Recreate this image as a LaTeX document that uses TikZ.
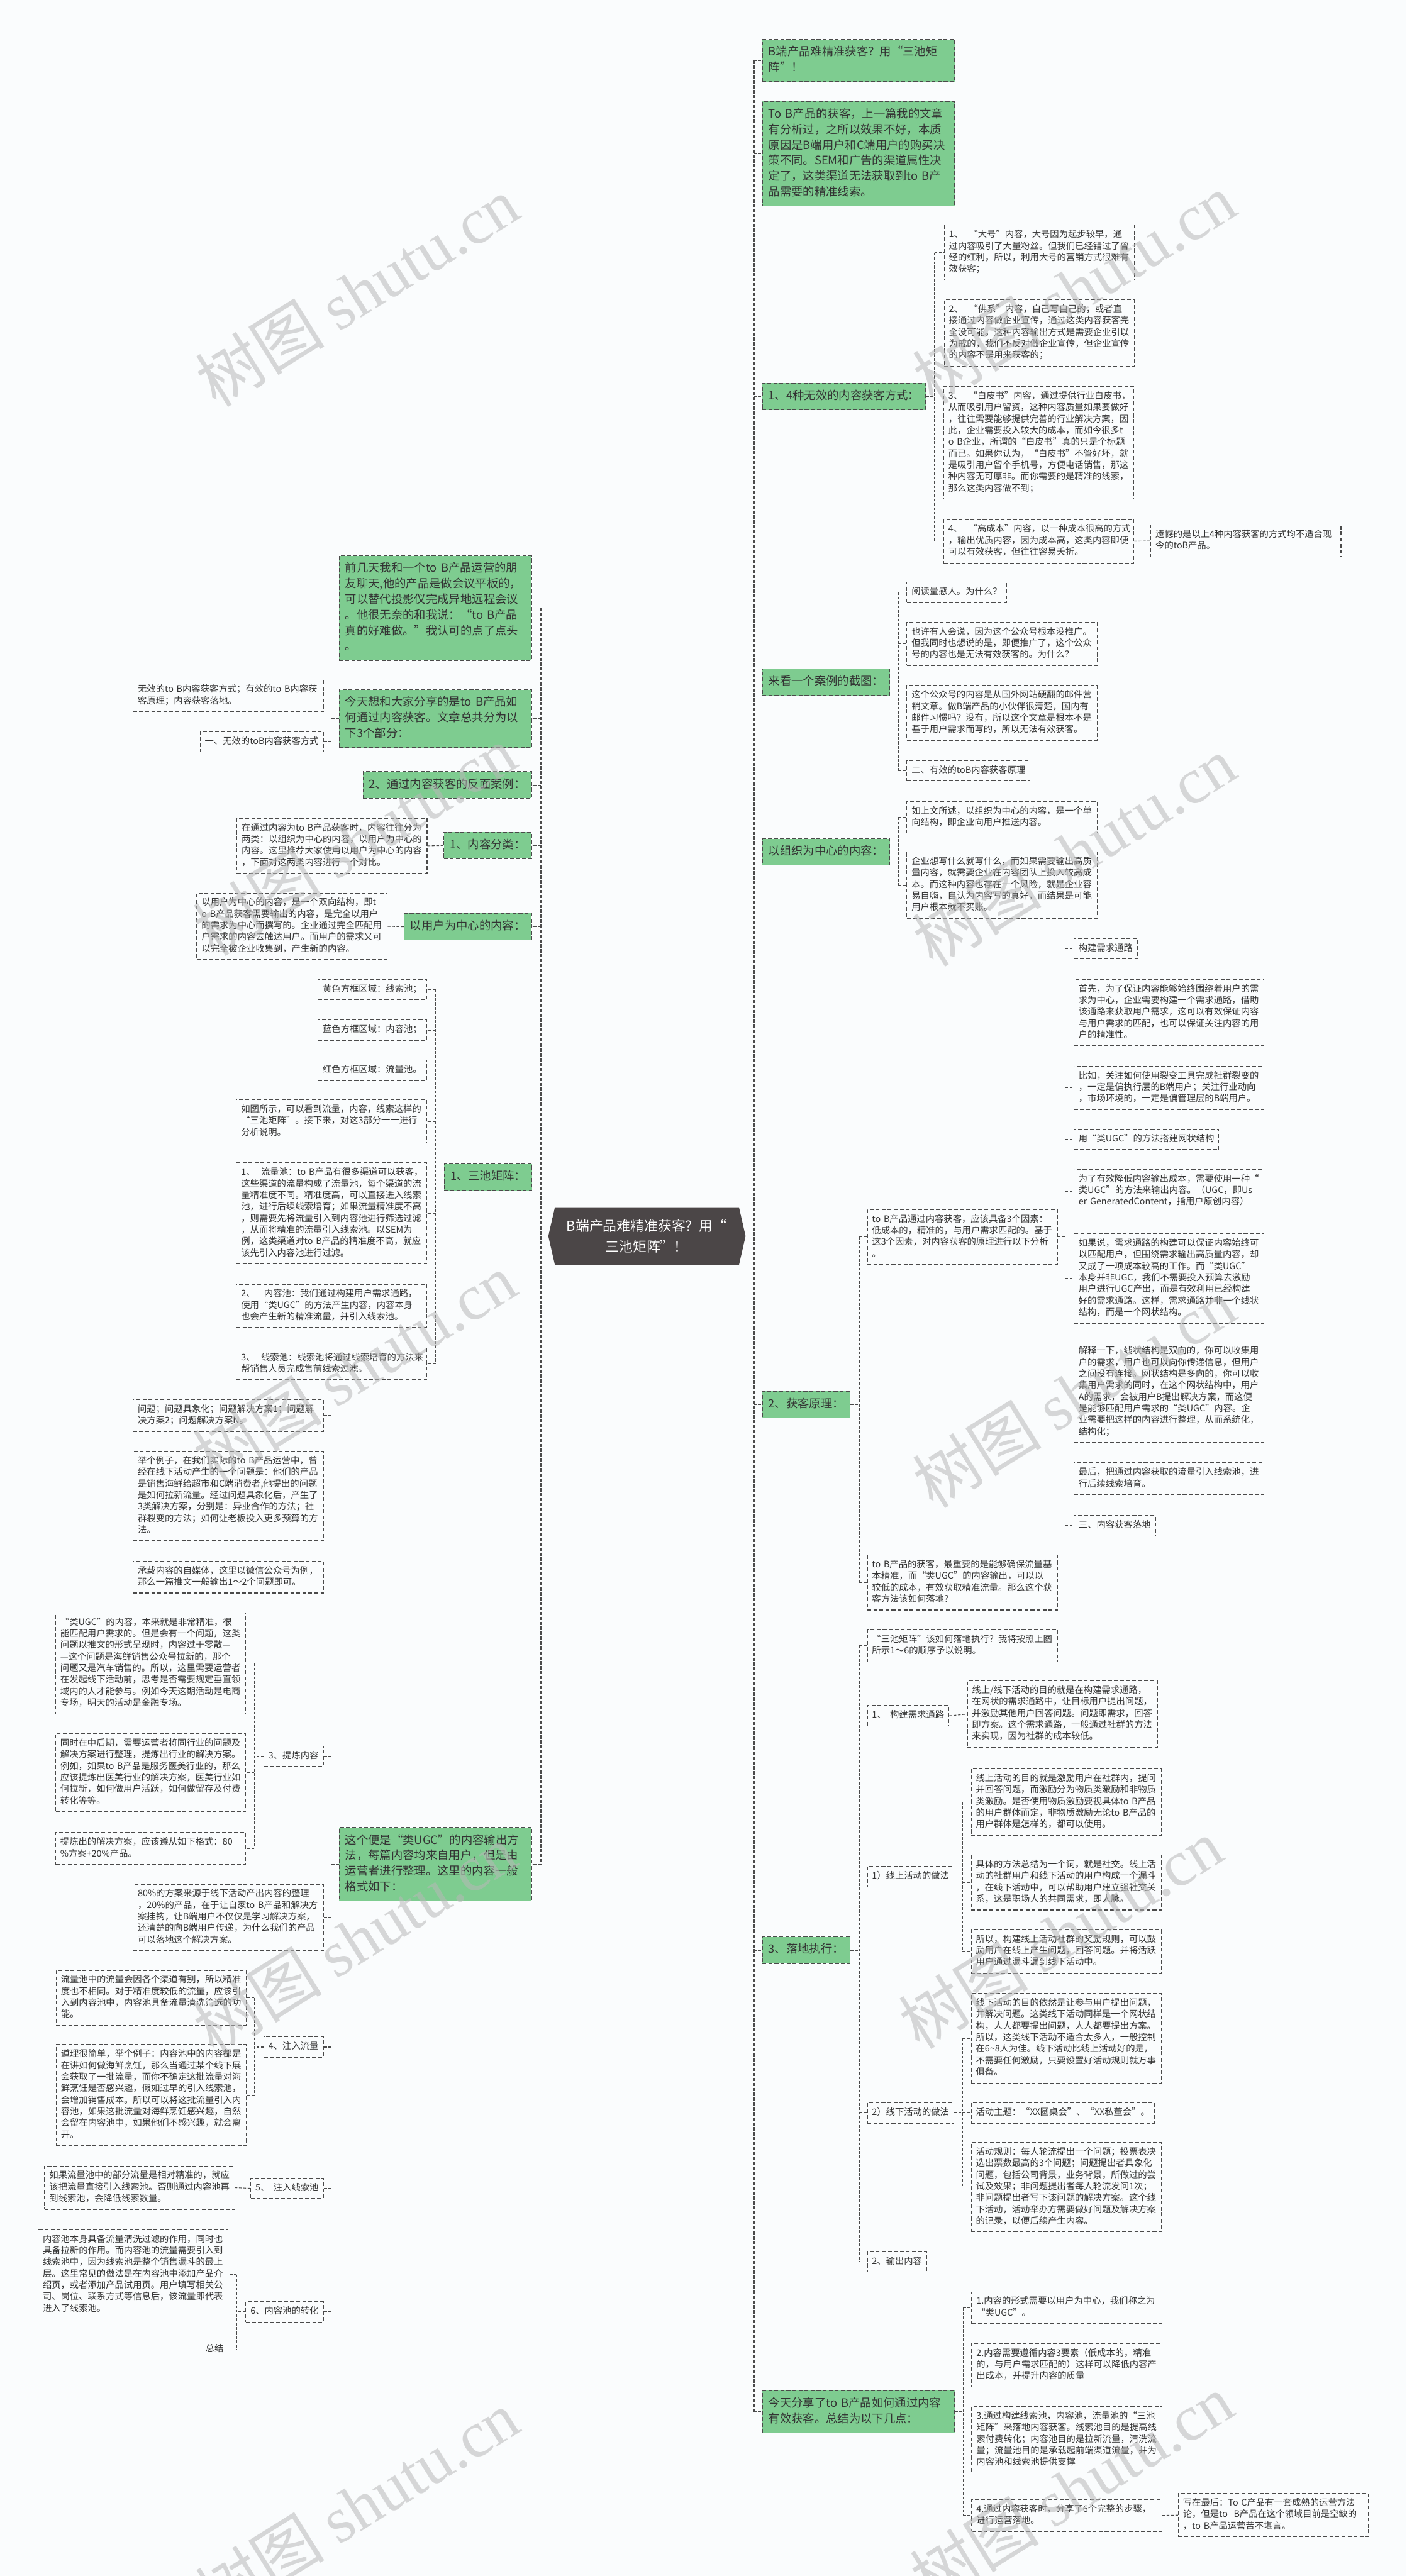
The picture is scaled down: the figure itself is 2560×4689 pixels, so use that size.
\documentclass[tikz,border=0pt]{standalone}
\usepackage{fontspec}
\setmainfont{Noto Sans CJK SC}
\newfontfamily\wmlatin{Liberation Serif}
\usepackage{xcolor}
\usetikzlibrary{positioning}

\definecolor{paper}{HTML}{FAFCFD}
\definecolor{topicgreen}{HTML}{7ECC90}
\definecolor{rootgray}{HTML}{4B4647}
\definecolor{boxline}{HTML}{4A4A4A}
\definecolor{inkgray}{HTML}{333333}
\definecolor{wmgray}{HTML}{B8B8B8}

\newcommand\rootfont{\fontsize{25pt}{37pt}\selectfont}
\newcommand\branchfont{\fontsize{21pt}{28.4pt}\selectfont}
\newcommand\notefont{\fontsize{16.4pt}{21pt}\selectfont}
\newcommand\wmfont{\fontsize{118pt}{130pt}\selectfont}

\begin{document}
\begin{tikzpicture}[
    x=1pt, y=-1pt,
    box/.style={draw=boxline, line width=1.3pt, dash pattern=on 7pt off 4pt, text=inkgray, align=left,
        execute at begin node=\strut, execute at end node=\strut},
    branch/.style={box, fill=topicgreen, font=\branchfont, inner xsep=11pt, inner ysep=10pt, text width=328pt},
    branchtag/.style={box, fill=topicgreen, font=\branchfont, inner xsep=11pt, inner ysep=10pt},
    note/.style={box, fill=paper, font=\notefont, inner xsep=8.5pt, inner ysep=8pt, text width=329pt},
    tag/.style={box, fill=paper, font=\notefont, inner xsep=8.5pt, inner ysep=8pt},
    toright/.style={anchor=north west},
    toleft/.style={anchor=north east},
    root/.style={text=white, font=\rootfont, align=center, minimum width=359pt, minimum height=105pt, inner sep=0pt},
    rootlink/.style={draw=boxline, line width=2pt},
    link/.style={draw=boxline, line width=1.3pt, dash pattern=on 5pt off 3pt},
    mainlink/.style={link, line width=2.4pt, dash pattern=on 6pt off 3pt},
    watermark/.style={rotate=32, text=wmgray, text opacity=0.55, font=\wmfont}
]

\useasboundingbox (0,0) rectangle (2560,4689);
\fill[paper] (0,0) rectangle (2560,4689);

% Centre topic
\fill[rootgray] (998,2250) -- (1010,2197.5) -- (1345,2197.5) -- (1357,2250) -- (1345,2302.5) -- (1010,2302.5) -- cycle;
\node[root] (root) at (1177,2250) {B端产品难精准获客？用“\\三池矩阵”！};

% Right side: main branches
\node[branch, toright] (r1) at (1387,71) {B端产品难精准获客？用“三池矩\\阵”！};
\node[branch, toright] (r2) at (1387,184) {To~B产品的获客，上一篇我的文章\\有分析过，之所以效果不好，本质\\原因是B端用户和C端用户的购买决\\策不同。SEM和广告的渠道属性决\\定了，这类渠道无法获取到to~B产\\品需要的精准线索。};
\node[branchtag, toright] (r3) at (1387,697) {1、4种无效的内容获客方式：};
\node[branchtag, toright] (r4) at (1387,1217) {来看一个案例的截图：};
\node[branchtag, toright] (r5) at (1387,1526) {以组织为中心的内容：};
\node[branchtag, toright] (r6) at (1387,2532) {2、获客原理：};
\node[branchtag, toright] (r7) at (1387,3525) {3、落地执行：};
\node[branch, toright] (r8) at (1387,4351) {今天分享了to~B产品如何通过内容\\有效获客。总结为以下几点：};

% 4 invalid ways
\node[note, toright] (t1) at (1718,409) {1、~~“大号”内容，大号因为起步较早，通\\过内容吸引了大量粉丝。但我们已经错过了曾\\经的红利，所以，利用大号的营销方式很难有\\效获客；};
\node[note, toright] (t2) at (1718,545) {2、~~“佛系”内容，自己写自己的，或者直\\接通过内容做企业宣传，通过这类内容获客完\\全没可能。这种内容输出方式是需要企业引以\\为戒的，我们不反对做企业宣传，但企业宣传\\的内容不是用来获客的；};
\node[note, toright] (t3) at (1717,703) {3、~~“白皮书”内容，通过提供行业白皮书，\\从而吸引用户留资，这种内容质量如果要做好\\，往往需要能够提供完善的行业解决方案，因\\此，企业需要投入较大的成本，而如今很多t\\o~B企业，所谓的“白皮书”真的只是个标题\\而已。如果你认为，“白皮书”不管好坏，就\\是吸引用户留个手机号，方便电话销售，那这\\种内容无可厚非。而你需要的是精准的线索，\\那么这类内容做不到；};
\node[note, toright] (t4) at (1717,945) {4、~~“高成本”内容，以一种成本很高的方式\\，输出优质内容，因为成本高，这类内容即便\\可以有效获客，但往往容易夭折。};
\node[note, toright] (t4n) at (2094,955) {遗憾的是以上4种内容获客的方式均不适合现\\今的toB产品。};

% Case screenshot
\node[tag, toright] (c1) at (1650,1059) {阅读量感人。为什么？};
\node[note, toright] (c2) at (1650,1132) {也许有人会说，因为这个公众号根本没推广。\\但我同时也想说的是，即便推广了，这个公众\\号的内容也是无法有效获客的。为什么？};
\node[note, toright] (c3) at (1650,1247) {这个公众号的内容是从国外网站硬翻的邮件营\\销文章。做B端产品的小伙伴很清楚，国内有\\邮件习惯吗？没有，所以这个文章是根本不是\\基于用户需求而写的，所以无法有效获客。};
\node[tag, toright] (c4) at (1650,1384) {二、有效的toB内容获客原理};

% Organisation centred
\node[note, toright] (o1) at (1650,1458) {如上文所述，以组织为中心的内容，是一个单\\向结构，即企业向用户推送内容。};
\node[note, toright] (o2) at (1650,1550) {企业想写什么就写什么，而如果需要输出高质\\量内容，就需要企业在内容团队上投入较高成\\本。而这种内容也存在一个风险，就是企业容\\易自嗨，自认为内容写的真好，而结果是可能\\用户根本就不买账。};

% Principle
\node[note, toright] (p1) at (1578,2201) {to~B产品通过内容获客，应该具备3个因素：\\低成本的，精准的，与用户需求匹配的。基于\\这3个因素，对内容获客的原理进行以下分析\\。};
\node[note, toright] (p2) at (1578,2830) {to~B产品的获客，最重要的是能够确保流量基\\本精准，而“类UGC”的内容输出，可以以\\较低的成本，有效获取精准流量。那么这个获\\客方法该如何落地？};
\node[tag, toright] (q1) at (1954,1708) {构建需求通路};
\node[note, toright] (q2) at (1954,1782) {首先，为了保证内容能够始终围绕着用户的需\\求为中心，企业需要构建一个需求通路，借助\\该通路来获取用户需求，这可以有效保证内容\\与用户需求的匹配，也可以保证关注内容的用\\户的精准性。};
\node[note, toright] (q3) at (1954,1940) {比如，关注如何使用裂变工具完成社群裂变的\\，一定是偏执行层的B端用户；关注行业动向\\，市场环境的，一定是偏管理层的B端用户。};
\node[tag, toright] (q4) at (1954,2055) {用“类UGC”的方法搭建网状结构};
\node[note, toright] (q5) at (1954,2128) {为了有效降低内容输出成本，需要使用一种“\\类UGC”的方法来输出内容。（UGC，即Us\\er~GeneratedContent，指用户原创内容）};
\node[note, toright] (q6) at (1954,2245) {如果说，需求通路的构建可以保证内容始终可\\以匹配用户，但围绕需求输出高质量内容，却\\又成了一项成本较高的工作。而“类UGC”\\本身并非UGC，我们不需要投入预算去激励\\用户进行UGC产出，而是有效利用已经构建\\好的需求通路。这样，需求通路并非一个线状\\结构，而是一个网状结构。};
\node[note, toright] (q7) at (1954,2441) {解释一下，线状结构是双向的，你可以收集用\\户的需求，用户也可以向你传递信息，但用户\\之间没有连接。网状结构是多向的，你可以收\\集用户需求的同时，在这个网状结构中，用户\\A的需求，会被用户B提出解决方案，而这便\\是能够匹配用户需求的“类UGC”内容。企\\业需要把这样的内容进行整理，从而系统化，\\结构化；};
\node[note, toright] (q8) at (1954,2662) {最后，把通过内容获取的流量引入线索池，进\\行后续线索培育。};
\node[tag, toright] (q9) at (1954,2758) {三、内容获客落地};

% Execution
\node[note, toright] (e1) at (1578,2966) {“三池矩阵”该如何落地执行？我将按照上图\\所示1～6的顺序予以说明。};
\node[tag, toright] (e2) at (1578,3104) {1、~~构建需求通路};
\node[note, toright] (e2a) at (1760,3059) {线上/线下活动的目的就是在构建需求通路，\\在网状的需求通路中，让目标用户提出问题，\\并激励其他用户回答问题。问题即需求，回答\\即方案。这个需求通路，一般通过社群的方法\\来实现，因为社群的成本较低。};
\node[tag, toright] (e3) at (1578,3397) {1）线上活动的做法};
\node[note, toright] (e3a) at (1767,3219) {线上活动的目的就是激励用户在社群内，提问\\并回答问题，而激励分为物质类激励和非物质\\类激励。是否使用物质激励要视具体to~B产品\\的用户群体而定，非物质激励无论to~B产品的\\用户群体是怎样的，都可以使用。};
\node[note, toright] (e3b) at (1767,3376) {具体的方法总结为一个词，就是社交。线上活\\动的社群用户和线下活动的用户构成一个漏斗\\，在线下活动中，可以帮助用户建立强社交关\\系，这是职场人的共同需求，即人脉。};
\node[note, toright] (e3c) at (1767,3512) {所以，构建线上活动社群的奖励规则，可以鼓\\励用户在线上产生问题，回答问题。并将活跃\\用户通过漏斗漏到线下活动中。};
\node[tag, toright] (e4) at (1578,3827) {2）线下活动的做法};
\node[note, toright] (e4a) at (1767,3628) {线下活动的目的依然是让参与用户提出问题，\\并解决问题。这类线下活动同样是一个网状结\\构，人人都要提出问题，人人都要提出方案。\\所以，这类线下活动不适合太多人，一般控制\\在6\textasciitilde 8人为佳。线下活动比线上活动好的是，\\不需要任何激励，只要设置好活动规则就万事\\俱备。};
\node[tag, toright] (e4b) at (1767,3827) {活动主题：“XX圆桌会”、“XX私董会”。};
\node[note, toright] (e4c) at (1767,3899) {活动规则：每人轮流提出一个问题；投票表决\\选出票数最高的3个问题；问题提出者具象化\\问题，包括公司背景，业务背景，所做过的尝\\试及效果；非问题提出者每人轮流发问1次；\\非问题提出者写下该问题的解决方案。这个线\\下活动，活动举办方需要做好问题及解决方案\\的记录，以便后续产生内容。};
\node[tag, toright] (e5) at (1578,4098) {2、输出内容};

% Summary
\node[note, toright] (s1) at (1768,4171) {1.内容的形式需要以用户为中心，我们称之为\\“类UGC”。};
\node[note, toright] (s2) at (1768,4265) {2.内容需要遵循内容3要素（低成本的，精准\\的，与用户需求匹配的）这样可以降低内容产\\出成本，并提升内容的质量};
\node[note, toright] (s3) at (1768,4380) {3.通过构建线索池，内容池，流量池的“三池\\矩阵”来落地内容获客。线索池目的是提高线\\索付费转化；内容池目的是拉新流量，清洗流\\量；流量池目的是承载起前端渠道流量，并为\\内容池和线索池提供支撑};
\node[note, toright] (s4) at (1768,4549) {4.通过内容获客时，分享了6个完整的步骤，\\进行运营落地。};
\node[note, toright] (s4n) at (2144,4538) {写在最后：To~C产品有一套成熟的运营方法\\论，但是to~~B产品在这个领域目前是空缺的\\，to~B产品运营苦不堪言。};

% Left side: main branches
\node[branch, toleft] (l1) at (968,1011) {前几天我和一个to~B产品运营的朋\\友聊天,他的产品是做会议平板的，\\可以替代投影仪完成异地远程会议\\。他很无奈的和我说：“to~B产品\\真的好难做。”我认可的点了点头\\。};
\node[branch, toleft] (l2) at (968,1255) {今天想和大家分享的是to~B产品如\\何通过内容获客。文章总共分为以\\下3个部分：};
\node[branchtag, toleft] (l3) at (968,1404) {2、通过内容获客的反面案例：};
\node[branchtag, toleft] (l4) at (968,1514) {1、内容分类：};
\node[branchtag, toleft] (l5) at (968,1662) {以用户为中心的内容：};
\node[branchtag, toleft] (l6) at (969,2118) {1、三池矩阵：};
\node[branch, toleft] (l7) at (968,3326) {这个便是“类UGC”的内容输出方\\法，每篇内容均来自用户，但是由\\运营者进行整理。这里的内容一般\\格式如下：};

\node[note, toleft] (l2a) at (589,1237) {无效的to~B内容获客方式；有效的to~B内容获\\客原理；内容获客落地。};
\node[tag, toleft] (l2b) at (589,1331) {一、无效的toB内容获客方式};
\node[note, toleft] (l4a) at (778,1489) {在通过内容为to~B产品获客时，内容往往分为\\两类：以组织为中心的内容，以用户为中心的\\内容。这里推荐大家使用以用户为中心的内容\\，下面对这两类内容进行一个对比。};
\node[note, toleft] (l5a) at (705,1625) {以用户为中心的内容，是一个双向结构，即t\\o~B产品获客需要输出的内容，是完全以用户\\的需求为中心而撰写的。企业通过完全匹配用\\户需求的内容去触达用户。而用户的需求又可\\以完全被企业收集到，产生新的内容。};

% Three pools
\node[tag, toleft] (m1) at (777,1782) {黄色方框区域：线索池；};
\node[tag, toleft] (m2) at (777,1856) {蓝色方框区域：内容池；};
\node[tag, toleft] (m3) at (777,1929) {红色方框区域：流量池。};
\node[note, toleft] (m4) at (777,2001) {如图所示，可以看到流量，内容，线索这样的\\“三池矩阵”。接下来，对这3部分一一进行\\分析说明。};
\node[note, toleft] (m5) at (777,2116) {1、~~流量池：to~B产品有很多渠道可以获客，\\这些渠道的流量构成了流量池，每个渠道的流\\量精准度不同。精准度高，可以直接进入线索\\池，进行后续线索培育；如果流量精准度不高\\，则需要先将流量引入到内容池进行筛选过滤\\，从而将精准的流量引入线索池。以SEM为\\例，这类渠道对to~B产品的精准度不高，就应\\该先引入内容池进行过滤。};
\node[note, toleft] (m6) at (777,2337) {2、~~~内容池：我们通过构建用户需求通路，\\使用“类UGC”的方法产生内容，内容本身\\也会产生新的精准流量，并引入线索池。};
\node[note, toleft] (m7) at (777,2453) {3、~~线索池：线索池将通过线索培育的方法来\\帮销售人员完成售前线索过滤。};

% UGC-like content
\node[note, toleft] (u1) at (589,2547) {问题；问题具象化；问题解决方案1；问题解\\决方案2；问题解决方案N。};
\node[note, toleft] (u2) at (589,2641) {举个例子，在我们实际的to~B产品运营中，曾\\经在线下活动产生的一个问题是：他们的产品\\是销售海鲜给超市和C端消费者,他提出的问题\\是如何拉新流量。经过问题具象化后，产生了\\3类解决方案，分别是：异业合作的方法；社\\群裂变的方法；如何让老板投入更多预算的方\\法。};
\node[note, toleft] (u3) at (589,2841) {承载内容的自媒体，这里以微信公众号为例，\\那么一篇推文一般输出1～2个问题即可。};
\node[tag, toleft] (u4) at (589,3178) {3、提炼内容};
\node[note, toleft] (u4a) at (448,2935) {“类UGC”的内容，本来就是非常精准，很\\能匹配用户需求的。但是会有一个问题，这类\\问题以推文的形式呈现时，内容过于零散—\\—这个问题是海鲜销售公众号拉新的，那个\\问题又是汽车销售的。所以，这里需要运营者\\在发起线下活动前，思考是否需要规定垂直领\\域内的人才能参与。例如今天这期活动是电商\\专场，明天的活动是金融专场。};
\node[note, toleft] (u4b) at (448,3155) {同时在中后期，需要运营者将同行业的问题及\\解决方案进行整理，提炼出行业的解决方案。\\例如，如果to~B产品是服务医美行业的，那么\\应该提炼出医美行业的解决方案，医美行业如\\何拉新，如何做用户活跃，如何做留存及付费\\转化等等。};
\node[note, toleft] (u4c) at (448,3335) {提炼出的解决方案，应该遵从如下格式：80\\\%方案+20\%产品。};
\node[note, toleft] (u5) at (589,3429) {80\%的方案来源于线下活动产出内容的整理\\，20\%的产品，在于让自家to~B产品和解决方\\案挂钩，让B端用户不仅仅是学习解决方案，\\还清楚的向B端用户传递，为什么我们的产品\\可以落地这个解决方案。};
\node[tag, toleft] (u6) at (589,3707) {4、注入流量};
\node[note, toleft] (u6a) at (449,3586) {流量池中的流量会因各个渠道有别，所以精准\\度也不相同。对于精准度较低的流量，应该引\\入到内容池中，内容池具备流量清洗筛选的功\\能。};
\node[note, toleft] (u6b) at (449,3721) {道理很简单，举个例子：内容池中的内容都是\\在讲如何做海鲜烹饪，那么当通过某个线下展\\会获取了一批流量，而你不确定这批流量对海\\鲜烹饪是否感兴趣，假如过早的引入线索池，\\会增加销售成本。所以可以将这批流量引入内\\容池，如果这批流量对海鲜烹饪感兴趣，自然\\会留在内容池中，如果他们不感兴趣，就会离\\开。};
\node[tag, toleft] (u7) at (589,3964) {5、~~注入线索池};
\node[note, toleft] (u7a) at (428,3942) {如果流量池中的部分流量是相对精准的，就应\\该把流量直接引入线索池。否则通过内容池再\\到线索池，会降低线索数量。};
\node[tag, toleft] (u8) at (589,4189) {6、内容池的转化};
\node[note, toleft] (u8a) at (416,4058) {内容池本身具备流量清洗过滤的作用，同时也\\具备拉新的作用。而内容池的流量需要引入到\\线索池中，因为线索池是整个销售漏斗的最上\\层。这里常见的做法是在内容池中添加产品介\\绍页，或者添加产品试用页。用户填写相关公\\司、岗位、联系方式等信息后，该流量即代表\\进入了线索池。};
\node[tag, toleft] (u8b) at (416,4258) {总结};

% Trunks from the centre
\coordinate (ltrunk) at (984,2250);
\coordinate (rtrunk) at (1372,2250);
\draw[rootlink] (root.west) -- (ltrunk);
\draw[rootlink] (root.east) -- (rtrunk);
\draw[mainlink] (ltrunk |- l1.east) -- (ltrunk |- l7.east);
\draw[mainlink] (rtrunk |- r1.west) -- (rtrunk |- r8.west);
\draw[link] (ltrunk |- l1.east) -- (l1.east) (ltrunk |- l2.east) -- (l2.east) (ltrunk |- l3.east) -- (l3.east)
    (ltrunk |- l4.east) -- (l4.east) (ltrunk |- l5.east) -- (l5.east) (ltrunk |- l6.east) -- (l6.east)
    (ltrunk |- l7.east) -- (l7.east);
\draw[link] (rtrunk |- r1.west) -- (r1.west) (rtrunk |- r2.west) -- (r2.west) (rtrunk |- r3.west) -- (r3.west)
    (rtrunk |- r4.west) -- (r4.west) (rtrunk |- r5.west) -- (r5.west) (rtrunk |- r6.west) -- (r6.west)
    (rtrunk |- r7.west) -- (r7.west) (rtrunk |- r8.west) -- (r8.west);

% Junction columns
\coordinate (r3j) at (1701,0);
\coordinate (r4j) at (1635,0);
\coordinate (r6j) at (1564,0);
\coordinate (p1j) at (1939,0);
\coordinate (e3j) at (1752,0);
\coordinate (r8j) at (1753,0);
\coordinate (l2j) at (603,0);
\coordinate (l6j) at (793,0);
\coordinate (u4j) at (463,0);
\coordinate (u8j) at (431,0);

% Right sub-branches
\draw[link] (r3.east) -- (r3j |- r3.east) (r3j |- t1.west) -- (r3j |- t4.west);
\draw[link] (r3j |- t1.west) -- (t1.west) (r3j |- t2.west) -- (t2.west) (r3j |- t3.west) -- (t3.west) (r3j |- t4.west) -- (t4.west);
\draw[link] (t4.east) -- (t4n.west);

\draw[link] (r4.east) -- (r4j |- r4.east) (r4j |- c1.west) -- (r4j |- c4.west);
\draw[link] (r4j |- c1.west) -- (c1.west) (r4j |- c2.west) -- (c2.west) (r4j |- c3.west) -- (c3.west) (r4j |- c4.west) -- (c4.west);
\draw[link] (r5.east) -- (r4j |- r5.east) (r4j |- o1.west) -- (r4j |- o2.west);
\draw[link] (r4j |- o1.west) -- (o1.west) (r4j |- o2.west) -- (o2.west);

\draw[link] (r6.east) -- (r6j |- r6.east) (r6j |- p1.west) -- (r6j |- p2.west);
\draw[link] (r6j |- p1.west) -- (p1.west) (r6j |- p2.west) -- (p2.west);
\draw[link] (p1.east) -- (p1j |- p1.east) (p1j |- q1.west) -- (p1j |- q9.west);
\draw[link] (p1j |- q1.west) -- (q1.west) (p1j |- q2.west) -- (q2.west) (p1j |- q3.west) -- (q3.west)
    (p1j |- q4.west) -- (q4.west) (p1j |- q5.west) -- (q5.west) (p1j |- q6.west) -- (q6.west)
    (p1j |- q7.west) -- (q7.west) (p1j |- q8.west) -- (q8.west) (p1j |- q9.west) -- (q9.west);

\draw[link] (r7.east) -- (r6j |- r7.east) (r6j |- e1.west) -- (r6j |- e5.west);
\draw[link] (r6j |- e1.west) -- (e1.west) (r6j |- e2.west) -- (e2.west) (r6j |- e3.west) -- (e3.west)
    (r6j |- e4.west) -- (e4.west) (r6j |- e5.west) -- (e5.west);
\draw[link] (e2.east) -- (e2a.west);
\draw[link] (e3.east) -- (e3j |- e3.east) (e3j |- e3a.west) -- (e3j |- e3c.west);
\draw[link] (e3j |- e3a.west) -- (e3a.west) (e3j |- e3b.west) -- (e3b.west) (e3j |- e3c.west) -- (e3c.west);
\draw[link] (e4.east) -- (e3j |- e4.east) (e3j |- e4a.west) -- (e3j |- e4c.west);
\draw[link] (e3j |- e4a.west) -- (e4a.west) (e3j |- e4b.west) -- (e4b.west) (e3j |- e4c.west) -- (e4c.west);

\draw[link] (r8.east) -- (r8j |- r8.east) (r8j |- s1.west) -- (r8j |- s4.west);
\draw[link] (r8j |- s1.west) -- (s1.west) (r8j |- s2.west) -- (s2.west) (r8j |- s3.west) -- (s3.west) (r8j |- s4.west) -- (s4.west);
\draw[link] (s4.east) -- (s4n.west);

% Left sub-branches
\draw[link] (l2.west) -- (l2j |- l2.west) (l2j |- l2a.east) -- (l2j |- l2b.east);
\draw[link] (l2j |- l2a.east) -- (l2a.east) (l2j |- l2b.east) -- (l2b.east);
\draw[link] (l4.west) -- (l4a.east);
\draw[link] (l5.west) -- (l5a.east);

\draw[link] (l6.west) -- (l6j |- l6.west) (l6j |- m1.east) -- (l6j |- m7.east);
\draw[link] (l6j |- m1.east) -- (m1.east) (l6j |- m2.east) -- (m2.east) (l6j |- m3.east) -- (m3.east)
    (l6j |- m4.east) -- (m4.east) (l6j |- m5.east) -- (m5.east) (l6j |- m6.east) -- (m6.east) (l6j |- m7.east) -- (m7.east);

\draw[link] (l7.west) -- (l2j |- l7.west) (l2j |- u1.east) -- (l2j |- u8.east);
\draw[link] (l2j |- u1.east) -- (u1.east) (l2j |- u2.east) -- (u2.east) (l2j |- u3.east) -- (u3.east)
    (l2j |- u4.east) -- (u4.east) (l2j |- u5.east) -- (u5.east) (l2j |- u6.east) -- (u6.east)
    (l2j |- u7.east) -- (u7.east) (l2j |- u8.east) -- (u8.east);
\draw[link] (u4.west) -- (u4j |- u4.west) (u4j |- u4a.east) -- (u4j |- u4c.east);
\draw[link] (u4j |- u4a.east) -- (u4a.east) (u4j |- u4b.east) -- (u4b.east) (u4j |- u4c.east) -- (u4c.east);
\draw[link] (u6.west) -- (u4j |- u6.west) (u4j |- u6a.east) -- (u4j |- u6b.east);
\draw[link] (u4j |- u6a.east) -- (u6a.east) (u4j |- u6b.east) -- (u6b.east);
\draw[link] (u7.west) -- (u7a.east);
\draw[link] (u8.west) -- (u8j |- u8.west) (u8j |- u8a.east) -- (u8j |- u8b.east);
\draw[link] (u8j |- u8a.east) -- (u8a.east) (u8j |- u8b.east) -- (u8b.east);

% Watermarks
\node[watermark] (wm1) at (650,531) {树图 {\wmlatin shutu.cn}};
\node[watermark] (wm2) at (1955,525) {树图 {\wmlatin shutu.cn}};
\node[watermark] (wm3) at (645,1530) {树图 {\wmlatin shutu.cn}};
\node[watermark] (wm4) at (1955,1550) {树图 {\wmlatin shutu.cn}};
\node[watermark] (wm5) at (645,2490) {树图 {\wmlatin shutu.cn}};
\node[watermark] (wm6) at (1955,2535) {树图 {\wmlatin shutu.cn}};
\node[watermark] (wm7) at (645,3530) {树图 {\wmlatin shutu.cn}};
\node[watermark] (wm8) at (1930,3520) {树图 {\wmlatin shutu.cn}};
\node[watermark] (wm9) at (650,4560) {树图 {\wmlatin shutu.cn}};
\node[watermark] (wm10) at (1950,4530) {树图 {\wmlatin shutu.cn}};

\end{tikzpicture}
\end{document}
